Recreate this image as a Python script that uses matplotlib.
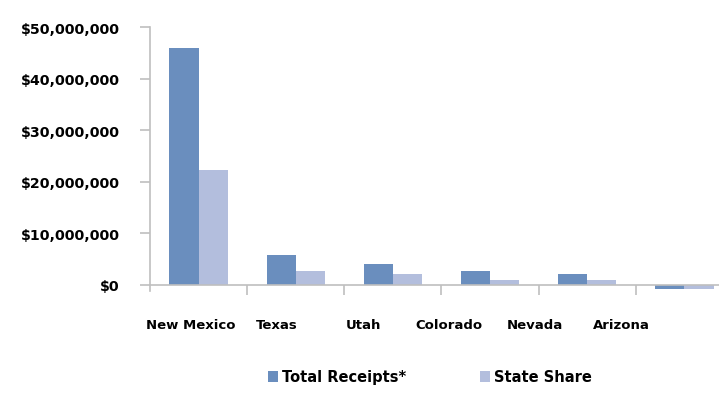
import matplotlib
matplotlib.use("Agg")
from matplotlib import pyplot as plt
import numpy as np

states = ["New Mexico", "Texas", "Utah", "Colorado", "Nevada", "Arizona"]
total_receipts = [46.0e6, 5.7e6, 4.1e6, 2.6e6, 2.1e6, -0.9e6]
state_share = [22.2e6, 2.6e6, 2.1e6, 1.0e6, 1.0e6, -0.8e6]
y_ticks = [0, 10e6, 20e6, 30e6, 40e6, 50e6]

blue = "#6a8ebe"
light = "#b3bedd"
grey = "#bfbfbf"

fig = plt.figure(figsize=(7.19, 4.06), dpi=100)
ax = fig.add_axes([150 / 719, 1 - 292 / 406, 583 / 719, (292 - 28.3) / 406])

x = np.arange(len(states)) + 0.5
w = 0.3
ax.bar(x - w / 2, total_receipts, w, color=blue, label="Total Receipts*")
ax.bar(x + w / 2, state_share, w, color=light, label="State Share")

ax.set_xlim(0, len(states))
ax.set_ylim(-1.2e6, 50e6)

for s in ["top", "right"]:
    ax.spines[s].set_visible(False)
ax.spines["left"].set_color(grey)
ax.spines["left"].set_linewidth(1.2)
ax.spines["bottom"].set_position(("data", 0))
ax.spines["bottom"].set_color(grey)
ax.spines["bottom"].set_linewidth(1.2)

ax.set_yticks(y_ticks)
ax.set_yticklabels(["${:,.0f}".format(v) for v in y_ticks],
                   fontsize=10.2, fontweight="heavy")
ax.tick_params(axis="y", length=7, color=grey, width=1.2, pad=15)

# category labels sit a bit left of the groups in the original
label_pos = 0.42 + 0.886 * np.arange(len(states))
ax.set_xticks(label_pos)
ax.set_xticklabels(states, fontsize=9.5, fontweight="heavy", va="top")
ax.tick_params(axis="x", which="major", length=0, pad=24)
ax.set_xticks(np.arange(1, len(states)), minor=True)
ax.tick_params(axis="x", which="minor", length=7, color=grey, width=1.2)

fig.legend(loc="center", bbox_to_anchor=(430 / 719, 1 - 378 / 406), ncol=2,
           frameon=False, columnspacing=5, handlelength=0.7, handleheight=0.7,
           handletextpad=0.3, prop={"weight": "heavy", "size": 10.5})

plt.savefig("out.png", dpi=100)
